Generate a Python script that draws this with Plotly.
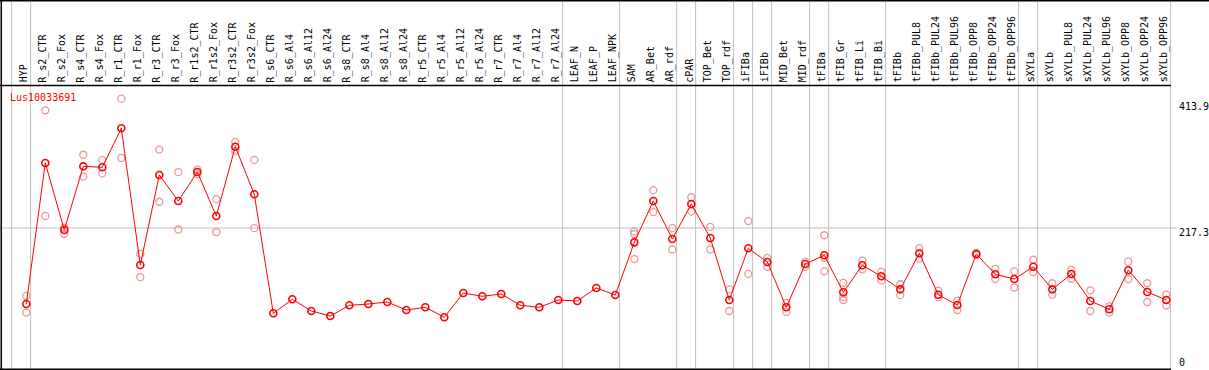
import plotly.graph_objects as go

categories = [
    "HYP", "R_s2_CTR", "R_s2_Fox", "R_s4_CTR", "R_s4_Fox", "R_r1_CTR", "R_r1_Fox",
    "R_r3_CTR", "R_r3_Fox", "R_r1s2_CTR", "R_r1s2_Fox", "R_r3s2_CTR", "R_r3s2_Fox",
    "R_s6_CTR", "R_s6_Al4", "R_s6_Al12", "R_s6_Al24", "R_s8_CTR", "R_s8_Al4",
    "R_s8_Al12", "R_s8_Al24", "R_r5_CTR", "R_r5_Al4", "R_r5_Al12", "R_r5_Al24",
    "R_r7_CTR", "R_r7_Al4", "R_r7_Al12", "R_r7_Al24", "LEAF_N", "LEAF_P", "LEAF_NPK",
    "SAM", "AR_Bet", "AR_rdf", "cPAR", "TOP_Bet", "TOP_rdf", "iFIBa", "iFIBb",
    "MID_Bet", "MID_rdf", "tFIBa", "tFIB_Gr", "tFIB_Li", "tFIB_Bi", "tFIBb",
    "tFIBb_PUL8", "tFIBb_PUL24", "tFIBb_PUL96", "tFIBb_OPP8", "tFIBb_OPP24",
    "tFIBb_OPP96", "sXYLa", "sXYLb", "sXYLb_PUL8", "sXYLb_PUL24", "sXYLb_PUL96",
    "sXYLb_OPP8", "sXYLb_OPP24", "sXYLb_OPP96",
]

means = [
    99.3, 318.2, 214.2, 313.0, 311.5, 372.0, 159.9,
    299.5, 259.2, 304.2, 235.9, 343.5, 269.6,
    84.9, 106.6, 88.5, 80.7, 97.3, 99.3,
    102.4, 90.0, 94.2, 78.7, 116.4, 111.3,
    114.9, 97.3, 94.2, 105.5, 104.0, 124.2, 113.3,
    195.0, 259.2, 200.2, 254.5, 201.8, 105.5, 185.8, 164.5,
    94.2, 161.4, 174.9, 117.5, 159.4, 142.3, 122.1,
    178.0, 113.8, 97.8, 176.9, 145.4,
    138.1, 157.2, 122.1, 145.9, 104.0, 91.1,
    151.6, 118.0, 105.5,
]

N = None
rep_a = [
    112, 400, 217, 331, 323, 418, 177,
    339, 304, 308, 262, 351, 323,
    N, N, N, N, N, N,
    N, N, N, N, N, N,
    N, N, N, N, N, N, N,
    212, 276, 217, 265, 219, 122, 228, 171,
    101, 165, 206, 132, 166.5, 149.5, 130,
    186, 120, 104.5, 178.5, 154,
    150, 168, 131.5, 152.6, 120.6, 96,
    165, 131.5, 114,
]
rep_b = [
    86, 236, 208, 297, 302, 326, 141,
    258, 215, 301, 211, 337, 217,
    N, N, N, N, N, N,
    N, N, N, N, N, N,
    N, N, N, N, N, N, N,
    208, 242, 184, 243, 184, 88.5, 146, 157,
    87, 157, 171, 110, 153, 136, 113,
    170, 110, 90, 175.4, 138,
    125, 149, 114, 138.6, 88.5, 86,
    138, 102.4, 97,
]
rep_c = [
    N, N, 218, N, N, N, N,
    N, N, N, N, N, N,
    N, N, N, N, N, N,
    N, N, N, N, N, N,
    N, N, N, N, N, N, N,
    169, N, N, N, N, N, N, N,
    N, N, 150, 105.5, N, N, N,
    N, N, N, N, N,
    N, N, N, N, N, N,
    N, N, N,
]

# group separators: drawn just after these category indices
separators_after = [-1, 0, 28, 31, 34, 35, 37, 38, 39, 41, 42, 45, 52, 53, 60]

gene_label = "Lus10033691"
y_ticks = [413.9, 217.3, 0]
y_tick_text = ["413.9", "217.3", "0"]

W, H = 1209, 370
X0, DX = 26.3, 19.0           # pixel of first column, pixel spacing
Y0, SY = 368.0, 0.6443        # pixel of value 0, pixels per unit

xr = [(0 - X0) / DX, (W - X0) / DX]
yr = [(Y0 - H) / SY, Y0 / SY]

def px_x(px):
    return (px - X0) / DX

def py_paper(py):
    return 1 - py / H

FONT = "DejaVu Sans Mono"
GRAY = "rgb(192,192,192)"
RED = "#ff0000"
PINK = "rgb(238,150,150)"

idx = list(range(len(categories)))
fig = go.Figure()

rx, ry = [], []
for reps in (rep_a, rep_b, rep_c):
    for i, v in enumerate(reps):
        if v is not None:
            rx.append(i)
            ry.append(v)

fig.add_trace(go.Scatter(
    x=rx, y=ry, mode="markers",
    marker=dict(symbol="circle-open", size=7, color=PINK, line=dict(width=1.3, color=PINK)),
    hoverinfo="skip", showlegend=False,
))
fig.add_trace(go.Scatter(
    x=idx, y=means, mode="lines+markers",
    line=dict(color=RED, width=1),
    marker=dict(symbol="circle-open", size=7, color=RED, line=dict(width=1.6, color=RED)),
    text=categories, showlegend=False,
))

shapes = []
# vertical group separators (full height)
for k in separators_after:
    xv = k + 4.3 / DX
    shapes.append(dict(type="line", xref="x", yref="paper", x0=xv, x1=xv, y0=0, y1=1,
                       line=dict(color=GRAY, width=1), layer="below"))
# horizontal gridline at 217.3
shapes.append(dict(type="line", xref="x", yref="y", x0=px_x(0), x1=px_x(1177),
                   y0=217.3, y1=217.3, line=dict(color=GRAY, width=1), layer="below"))
# black frame lines
def hline(py, px0, px1):
    shapes.append(dict(type="line", xref="x", yref="paper", x0=px_x(px0), x1=px_x(px1),
                       y0=py_paper(py), y1=py_paper(py), line=dict(color="black", width=1.5)))
def vline(px, py0, py1):
    shapes.append(dict(type="line", xref="x", yref="paper", x0=px_x(px), x1=px_x(px),
                       y0=py_paper(py0), y1=py_paper(py1), line=dict(color="black", width=1.5)))
hline(0.75, 0, W)
hline(85.5, 0, 1171)
hline(369.25, 0, 1171)
vline(1.25, 0, H)

annotations = []
for i, c in enumerate(categories):
    annotations.append(dict(
        x=i - 2.6 / DX, y=py_paper(83.5), xref="x", yref="paper",
        text=c, textangle=-90, showarrow=False, xanchor="center", yanchor="bottom",
        font=dict(family=FONT, size=10, color="black"), borderpad=0,
    ))
annotations.append(dict(
    x=px_x(9), y=py_paper(97), xref="x", yref="paper", text=gene_label,
    showarrow=False, xanchor="left", yanchor="middle",
    font=dict(family=FONT, size=10, color=RED), borderpad=0,
))
for v, t in zip(y_ticks, y_tick_text):
    if v == 0:
        ypos = py_paper(362)
    else:
        ypos = py_paper(Y0 - SY * v + 5)
    annotations.append(dict(
        x=px_x(1178), y=ypos, xref="x", yref="paper", text=t,
        showarrow=False, xanchor="left", yanchor="middle",
        font=dict(family=FONT, size=10, color="black"), borderpad=0,
    ))

fig.update_layout(
    width=W, height=H,
    margin=dict(l=0, r=0, t=0, b=0, pad=0),
    paper_bgcolor="white", plot_bgcolor="white",
    xaxis=dict(range=xr, visible=False, fixedrange=True),
    yaxis=dict(range=yr, visible=False, fixedrange=True),
    shapes=shapes, annotations=annotations,
    showlegend=False,
)

fig.write_html(
    "out.html",
    config={"displayModeBar": False},
    post_script="document.body.style.margin='0';document.body.style.padding='0';document.body.style.overflow='hidden';",
)
